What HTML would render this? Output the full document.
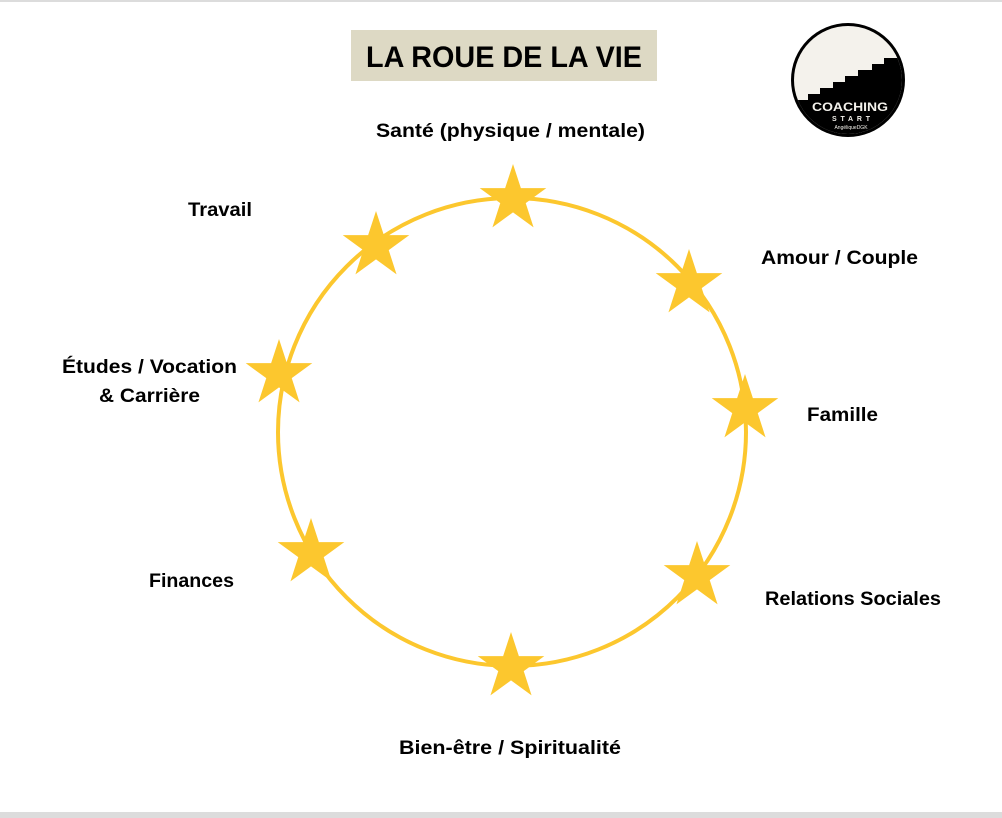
<!DOCTYPE html>
<html><head><meta charset="utf-8"><style>
html,body{margin:0;padding:0;background:#fff;}
svg{display:block;}
text{font-family:"Liberation Sans",sans-serif;font-weight:bold;fill:#000;}
</style></head><body>
<svg width="1002" height="818" viewBox="0 0 1002 818" xmlns="http://www.w3.org/2000/svg">
<defs>
<polygon id="st" fill="#FCC72E" points="0,-35 7.88,-10.84 33.29,-10.82 12.74,4.14 20.57,28.32 0,13.4 -20.57,28.32 -12.74,4.14 -33.29,-10.82 -7.88,-10.84"/>
<clipPath id="lc"><circle cx="848" cy="80" r="54"/></clipPath>
</defs>
<rect x="0" y="0" width="1002" height="2" fill="#dcdcdc"/>
<rect x="0" y="812" width="1002" height="6" fill="#dcdcdc"/>
<rect x="351" y="30" width="306" height="51" fill="#DDD9C4"/>
<text x="504" y="67" font-size="30" text-anchor="middle" textLength="276" lengthAdjust="spacingAndGlyphs">LA ROUE DE LA VIE</text>
<!-- logo -->
<circle cx="848" cy="80" r="57" fill="#000"/>
<g clip-path="url(#lc)">
<rect x="790" y="20" width="120" height="120" fill="#F4F2EC"/>
<polygon fill="#000" points="790,100 808,100 808,94 820,94 820,88 833,88 833,82 845,82 845,76 858,76 858,70 872,70 872,64 884,64 884,58 910,58 910,140 790,140"/>
</g>
<text x="850" y="111" font-size="12" fill="#fff" style="fill:#F4F2EC" text-anchor="middle" textLength="76" lengthAdjust="spacingAndGlyphs">COACHING</text>
<text x="851" y="121" font-size="7" style="fill:#F4F2EC" text-anchor="middle" textLength="38" lengthAdjust="spacing">START</text>
<text x="851" y="129" font-size="5" style="fill:#F4F2EC;font-weight:normal" text-anchor="middle">AngéliqueDGK</text>
<!-- wheel -->
<circle cx="512" cy="432" r="234" fill="none" stroke="#FCC72E" stroke-width="4"/>
<use href="#st" x="513" y="199"/>
<use href="#st" x="376" y="246"/>
<use href="#st" x="689" y="284"/>
<use href="#st" x="279" y="374"/>
<use href="#st" x="745" y="409"/>
<use href="#st" x="311" y="553"/>
<use href="#st" x="697" y="576"/>
<use href="#st" x="511" y="667"/>
<!-- labels -->
<text x="376" y="137" font-size="19" textLength="269" lengthAdjust="spacingAndGlyphs">Santé (physique / mentale)</text>
<text x="188" y="216" font-size="19" textLength="64" lengthAdjust="spacingAndGlyphs">Travail</text>
<text x="761" y="264" font-size="19" textLength="157" lengthAdjust="spacingAndGlyphs">Amour / Couple</text>
<text x="62" y="373" font-size="19" textLength="175" lengthAdjust="spacingAndGlyphs">Études / Vocation</text>
<text x="99" y="402" font-size="19" textLength="101" lengthAdjust="spacingAndGlyphs">&amp; Carrière</text>
<text x="807" y="421" font-size="19" textLength="71" lengthAdjust="spacingAndGlyphs">Famille</text>
<text x="149" y="587" font-size="19" textLength="85" lengthAdjust="spacingAndGlyphs">Finances</text>
<text x="765" y="605" font-size="19" textLength="176" lengthAdjust="spacingAndGlyphs">Relations Sociales</text>
<text x="399" y="754" font-size="19" textLength="222" lengthAdjust="spacingAndGlyphs">Bien-être / Spiritualité</text>
</svg>
</body></html>
